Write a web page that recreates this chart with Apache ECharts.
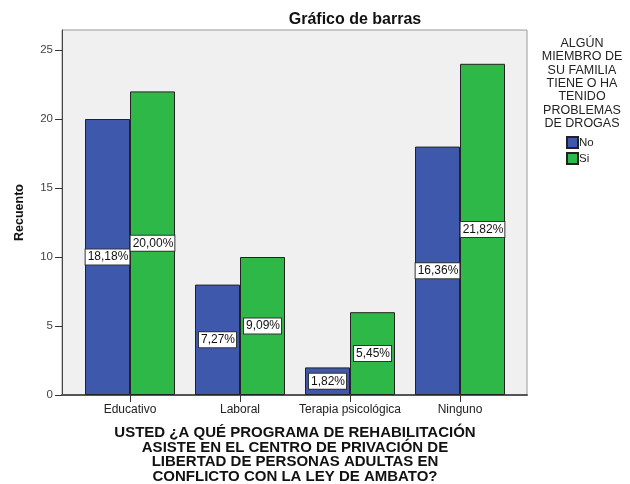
<!DOCTYPE html>
<html>
<head>
<meta charset="utf-8">
<script src="https://cdn.jsdelivr.net/npm/echarts@6/dist/echarts.min.js"></script>
<style>
  html, body { margin: 0; padding: 0; background: #fff; }
  #chart { width: 630px; height: 484px; }
</style>
</head>
<body>
<div id="chart"></div>
<script>
// datos
var categorias = ['Educativo', 'Laboral', 'Terapia psicológica', 'Ninguno'];
var grupos = ['No', 'Si'];
var recuentoNo = [20, 8, 2, 18];
var recuentoSi = [22, 10, 6, 24];
var porcentajeNo = ['18,18%', '7,27%', '1,82%', '16,36%'];
var porcentajeSi = ['20,00%', '9,09%', '5,45%', '21,82%'];
var ticksY = [0, 5, 10, 15, 20, 25];

var colores = ['#3e58ac', '#2eb848'];
var fuente = '"Liberation Sans", Arial, sans-serif';

var chart = echarts.init(document.getElementById('chart'));

function etiqueta(lista) {
    return {
        show: true,
        position: 'inside',
        formatter: function (p) { return lista[p.dataIndex]; },
        color: '#111',
        fontFamily: fuente,
        fontSize: 12,
        backgroundColor: '#fff',
        borderColor: '#333',
        borderWidth: 1,
        padding: [2, 1, 1, 2]
    };
}

var option = {
    animation: false,
    textStyle: { fontFamily: fuente },
    title: [
        {
            text: 'Gráfico de barras',
            left: 350, top: 7,
            textAlign: 'center',
            textStyle: { fontFamily: fuente, fontSize: 16, fontWeight: 'bold', color: '#111' }
        },
        {
            text: 'ALGÚN\nMIEMBRO DE\nSU FAMILIA\nTIENE O HA\nTENIDO\nPROBLEMAS\nDE DROGAS',
            left: 577, top: 32,
            textAlign: 'center',
            textStyle: { fontFamily: fuente, fontSize: 12.5, fontWeight: 'normal', color: '#222', lineHeight: 13.3 }
        }
    ],
    legend: {
        orient: 'vertical',
        left: 566, top: 136,
        padding: 0,
        itemWidth: 11, itemHeight: 11, itemGap: 3,
        icon: 'rect',
        data: grupos,
        textStyle: { fontFamily: fuente, fontSize: 11.5, color: '#222', padding: [0, 0, 0, -4] }
    },
    grid: [
        // caja del area de trazado
        { left: 62, right: 103, top: 30, bottom: 89, outerBoundsMode: 'none', show: true, backgroundColor: '#f0f0f0', borderColor: '#999', borderWidth: 1 },
        // barras
        { left: 75, right: 115, top: 30, bottom: 89, outerBoundsMode: 'none' }
    ],
    xAxis: [
        {
            gridIndex: 0, type: 'value', min: 0, max: 1,
            axisLine: { show: true, onZero: false, lineStyle: { color: '#555', width: 2 } },
            axisTick: { show: false }, axisLabel: { show: false }, splitLine: { show: false }
        },
        {
            gridIndex: 1, type: 'category', data: categorias,
            axisLine: { show: false },
            axisTick: { show: true, alignWithLabel: true, length: 7, lineStyle: { color: '#333' } },
            axisLabel: { fontFamily: fuente, fontSize: 12, color: '#222', margin: 9, interval: 0 },
            name: 'USTED ¿A QUÉ PROGRAMA DE REHABILITACIÓN\nASISTE EN EL CENTRO DE PRIVACIÓN DE\nLIBERTAD DE PERSONAS ADULTAS EN\nCONFLICTO CON LA LEY DE AMBATO?',
            nameLocation: 'middle',
            nameGap: 31,
            nameTextStyle: { fontFamily: fuente, fontSize: 15, fontWeight: 'bold', color: '#111', lineHeight: 14.5, verticalAlign: 'top' }
        }
    ],
    yAxis: [
        {
            gridIndex: 0, type: 'value', min: 0, max: 1, show: false
        },
        {
            gridIndex: 1, type: 'value', min: 0, max: 26.45, interval: 5,
            offset: 13,
            axisLine: { show: true, lineStyle: { color: '#444', width: 1 } },
            axisTick: { show: true, inside: false, length: 7, lineStyle: { color: '#333' }, customValues: ticksY },
            axisLabel: { fontFamily: fuente, fontSize: 11.5, color: '#444', margin: 9, customValues: ticksY },
            splitLine: { show: false },
            name: 'Recuento',
            nameLocation: 'middle',
            nameGap: 36,
            nameTextStyle: { fontFamily: fuente, fontSize: 12.5, fontWeight: 'bold', color: '#111' }
        }
    ],
    series: [
        {
            name: grupos[0], type: 'bar', xAxisIndex: 1, yAxisIndex: 1,
            data: recuentoNo, barWidth: 45, barGap: '0%',
            itemStyle: { color: colores[0], borderColor: '#222', borderWidth: 1 },
            label: etiqueta(porcentajeNo)
        },
        {
            name: grupos[1], type: 'bar', xAxisIndex: 1, yAxisIndex: 1,
            data: recuentoSi, barWidth: 45, barGap: '0%',
            itemStyle: { color: colores[1], borderColor: '#222', borderWidth: 1 },
            label: etiqueta(porcentajeSi)
        }
    ]
};

chart.setOption(option);
</script>
</body>
</html>
